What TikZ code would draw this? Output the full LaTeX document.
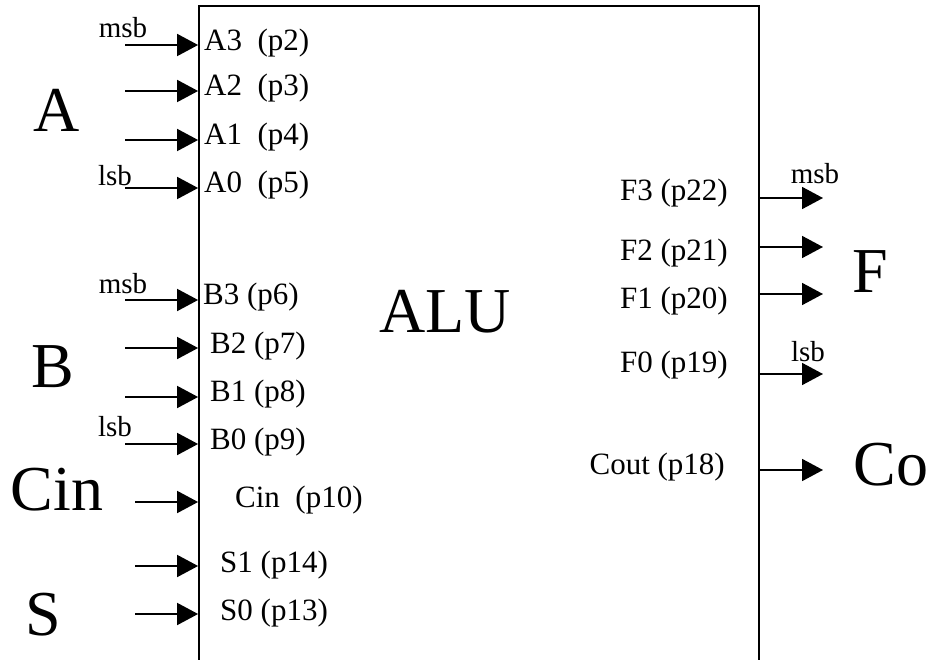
\documentclass[tikz,border=0pt]{standalone}
\usepackage{fontspec}
\setmainfont{Liberation Serif}
\usetikzlibrary{arrows.meta}
\tikzstyle{alubox} = [rectangle, minimum width=560pt, minimum height=680pt, draw=black, line width=1.8pt, inner sep=0pt]
\tikzstyle{pin} = [inner sep=0pt, font=\fontsize{31}{34}\selectfont]
\tikzstyle{bit} = [inner sep=0pt, font=\fontsize{29}{32}\selectfont]
\tikzstyle{bus} = [inner sep=0pt, font=\fontsize{64}{70}\selectfont]
\tikzstyle{arrow} = [line width=1.8pt, -{Triangle[length=21pt, width=22pt]}]

\begin{document}
\begin{tikzpicture}[x=1pt, y=-1pt]
    \useasboundingbox (0,0) rectangle (928,660);

    \node (alu) [alubox] at (479,346) {};
    \node (alu-text) [bus] at (445,312) {ALU};

    \node (a-bus) [bus] at (57,110) {A};
    \node (b-bus) [bus] at (53,367) {B};
    \node (cin-bus) [bus] at (57,490) {Cin};
    \node (s-bus) [bus] at (43,615) {S};
    \node (f-bus) [bus] at (870,272) {F};
    \node (co-bus) [bus] at (891,465) {Co};

    \node (a-msb) [bit] at (123,28) {msb};
    \node (a-lsb) [bit] at (115,176) {lsb};
    \node (b-msb) [bit] at (123,284) {msb};
    \node (b-lsb) [bit] at (115,427) {lsb};
    \node (f-msb) [bit] at (815,174) {msb};
    \node (f-lsb) [bit] at (808,352) {lsb};

    \node (a3) [pin, anchor=west] at (204,43) {A3~~(p2)};
    \node (a2) [pin, anchor=west] at (204,88) {A2~~(p3)};
    \node (a1) [pin, anchor=west] at (204,137) {A1~~(p4)};
    \node (a0) [pin, anchor=west] at (204,185) {A0~~(p5)};
    \node (b3) [pin, anchor=west] at (203,297) {B3 (p6)};
    \node (b2) [pin, anchor=west] at (210,346) {B2 (p7)};
    \node (b1) [pin, anchor=west] at (210,394) {B1 (p8)};
    \node (b0) [pin, anchor=west] at (210,442) {B0 (p9)};
    \node (cin) [pin, anchor=west] at (235,500) {Cin~~(p10)};
    \node (s1) [pin, anchor=west] at (220,565) {S1 (p14)};
    \node (s0) [pin, anchor=west] at (220,613) {S0 (p13)};

    \node (f3) [pin, anchor=east] at (728,193) {F3 (p22)};
    \node (f2) [pin, anchor=east] at (728,253) {F2 (p21)};
    \node (f1) [pin, anchor=east] at (728,301) {F1 (p20)};
    \node (f0) [pin, anchor=east] at (728,365) {F0 (p19)};
    \node (cout) [pin, anchor=east] at (725,467) {Cout (p18)};

    \coordinate (a3-in) at (125,45);
    \coordinate (a2-in) at (125,91);
    \coordinate (a1-in) at (125,140);
    \coordinate (a0-in) at (125,188);
    \coordinate (b3-in) at (125,300);
    \coordinate (b2-in) at (125,348);
    \coordinate (b1-in) at (125,397);
    \coordinate (b0-in) at (125,444);
    \coordinate (cin-in) at (135,502);
    \coordinate (s1-in) at (135,566);
    \coordinate (s0-in) at (135,614);

    \coordinate (f3-out) at (823,198);
    \coordinate (f2-out) at (823,247);
    \coordinate (f1-out) at (823,294);
    \coordinate (f0-out) at (823,374);
    \coordinate (cout-out) at (823,470);

    \draw [arrow] (a3-in) -- (a3-in -| alu.west);
    \draw [arrow] (a2-in) -- (a2-in -| alu.west);
    \draw [arrow] (a1-in) -- (a1-in -| alu.west);
    \draw [arrow] (a0-in) -- (a0-in -| alu.west);

    \draw [arrow] (b3-in) -- (b3-in -| alu.west);
    \draw [arrow] (b2-in) -- (b2-in -| alu.west);
    \draw [arrow] (b1-in) -- (b1-in -| alu.west);
    \draw [arrow] (b0-in) -- (b0-in -| alu.west);

    \draw [arrow] (cin-in) -- (cin-in -| alu.west);
    \draw [arrow] (s1-in) -- (s1-in -| alu.west);
    \draw [arrow] (s0-in) -- (s0-in -| alu.west);

    \draw [arrow] (f3-out -| alu.east) -- (f3-out);
    \draw [arrow] (f2-out -| alu.east) -- (f2-out);
    \draw [arrow] (f1-out -| alu.east) -- (f1-out);
    \draw [arrow] (f0-out -| alu.east) -- (f0-out);
    \draw [arrow] (cout-out -| alu.east) -- (cout-out);
\end{tikzpicture}
\end{document}
